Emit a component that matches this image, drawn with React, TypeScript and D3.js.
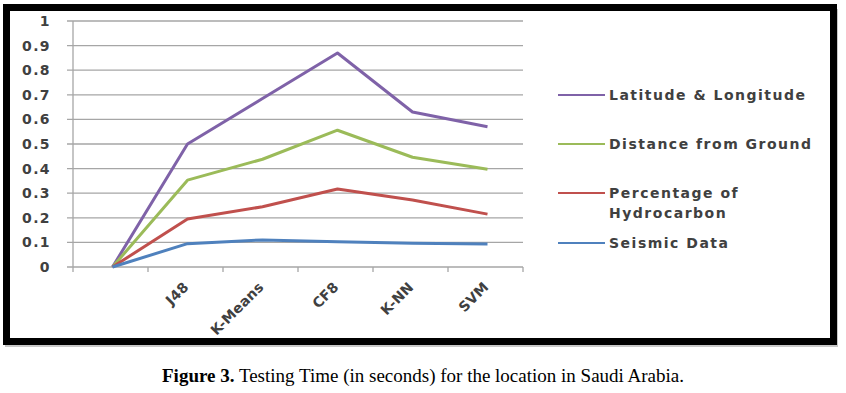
import React, { useRef, useEffect } from "react";
import * as d3 from "d3";

const categories = ["", "J48", "K-Means", "CF8", "K-NN", "SVM"];
const latLong = [0, 0.5, 0.685, 0.87, 0.63, 0.57];
const distance = [0, 0.353, 0.438, 0.556, 0.446, 0.397];
const hydrocarbon = [0, 0.195, 0.245, 0.317, 0.272, 0.215];
const seismic = [0, 0.095, 0.11, 0.103, 0.097, 0.093];
const yTicks = [0, 0.1, 0.2, 0.3, 0.4, 0.5, 0.6, 0.7, 0.8, 0.9, 1];

const series = [
  { name: ["Latitude & Longitude"], values: latLong, color: "#7f62a8" },
  { name: ["Distance from Ground"], values: distance, color: "#9bbb59" },
  { name: ["Percentage of", "Hydrocarbon"], values: hydrocarbon, color: "#c0504d" },
  { name: ["Seismic Data"], values: seismic, color: "#4f81bd" },
];

const legendY = [95, 144, 193, 243];

const App = () => {
  const ref = useRef(null);

  useEffect(() => {
    document.body.style.margin = "0";
    const svg = d3.select(ref.current);
    svg.selectAll("*").remove();

    const left = 73, right = 523, top = 21, bottom = 267;
    const labelFont = "'DejaVu Sans', sans-serif";

    // frame with a soft shadow
    svg.append("rect")
      .attr("x", 5).attr("y", 9).attr("width", 833).attr("height", 338)
      .attr("fill", "#c8c8c8");
    svg.append("rect")
      .attr("x", 6.5).attr("y", 7.5).attr("width", 827).attr("height", 334)
      .attr("fill", "#fff").attr("stroke", "#000").attr("stroke-width", 7);

    const x = d3.scaleBand().domain(categories).range([left, right]);
    const y = d3.scaleLinear().domain([0, 1]).range([bottom, top]);

    // gridlines
    svg.append("g")
      .selectAll("line")
      .data(yTicks)
      .enter()
      .append("line")
      .attr("x1", left - 6).attr("x2", right)
      .attr("y1", (d) => y(d)).attr("y2", (d) => y(d))
      .attr("stroke", "#a6a6a6").attr("stroke-width", 1.3);

    // axes lines
    svg.append("line")
      .attr("x1", left).attr("x2", left).attr("y1", top).attr("y2", bottom)
      .attr("stroke", "#a6a6a6").attr("stroke-width", 1.3);

    const xTicks = categories.map((c) => x(c)).concat([right]);
    svg.append("g")
      .selectAll("line")
      .data(xTicks)
      .enter()
      .append("line")
      .attr("x1", (d) => d).attr("x2", (d) => d)
      .attr("y1", bottom).attr("y2", bottom + 5)
      .attr("stroke", "#a6a6a6").attr("stroke-width", 1.3);

    // y labels
    svg.append("g")
      .selectAll("text")
      .data(yTicks)
      .enter()
      .append("text")
      .attr("x", 51)
      .attr("y", (d) => y(d) + 5)
      .attr("text-anchor", "end")
      .attr("font-family", labelFont)
      .attr("font-weight", "bold")
      .attr("font-size", 14)
      .attr("letter-spacing", 1.4)
      .attr("fill", "#404040")
      .text((d) => d3.format("")(d));

    // x labels
    svg.append("g")
      .selectAll("text")
      .data(categories.filter((c) => c !== ""))
      .enter()
      .append("text")
      .attr("transform", (d) => `translate(${x(d) + x.bandwidth() / 2 + 4},${bottom + 21}) rotate(-45)`)
      .attr("text-anchor", "end")
      .attr("font-family", labelFont)
      .attr("font-weight", "bold")
      .attr("font-size", 14)
      .attr("letter-spacing", 0.2)
      .attr("fill", "#404040")
      .text((d) => d);

    const line = d3.line()
      .x((d, i) => x(categories[i]) + x.bandwidth() / 2 + 2)
      .y((d) => y(d));

    series.forEach((s) => {
      svg.append("path")
        .datum(s.values)
        .attr("d", line)
        .attr("fill", "none")
        .attr("stroke", s.color)
        .attr("stroke-width", 3)
        .attr("stroke-linejoin", "round");
    });

    // legend
    series.forEach((s, i) => {
      const g = svg.append("g").attr("transform", `translate(558,${legendY[i]})`);
      g.append("line")
        .attr("x1", 0).attr("x2", 47)
        .attr("stroke", s.color).attr("stroke-width", 2);
      s.name.forEach((t, j) => {
        g.append("text")
          .attr("x", 51)
          .attr("y", 5 + j * 20)
          .attr("font-family", labelFont)
          .attr("font-weight", "bold")
          .attr("font-size", 14)
          .attr("letter-spacing", 1.5)
          .attr("fill", "#404040")
          .text(t);
      });
    });

    // caption
    const cap = svg.append("text")
      .attr("x", 423).attr("y", 382)
      .attr("text-anchor", "middle")
      .attr("font-family", "'Liberation Serif', serif")
      .attr("font-size", 19)
      .attr("fill", "#000");
    cap.append("tspan").attr("font-weight", "bold").text("Figure 3.");
    cap.append("tspan").text(" Testing Time (in seconds) for the location in Saudi Arabia.");
  }, []);

  return <svg ref={ref} width={846} height={393} style={{ display: "block", background: "#fff" }} />;
};

export default App;
